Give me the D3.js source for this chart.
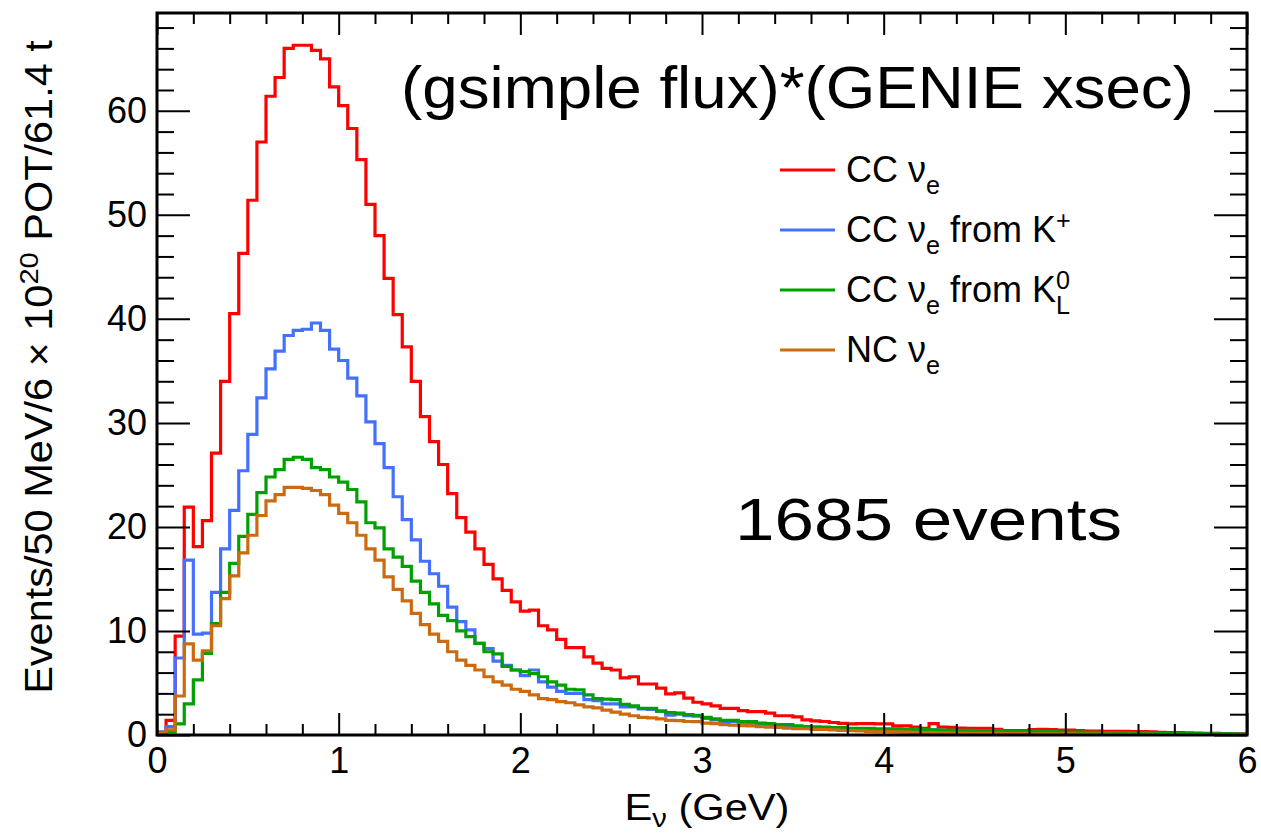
<!DOCTYPE html>
<html>
<head>
<meta charset="utf-8">
<script src="https://cdn.jsdelivr.net/npm/d3@7.9.0/dist/d3.min.js"></script>
<style>
  body { margin: 0; background: #fff; }
  svg { display: block; font-family: "Liberation Sans", Arial, sans-serif; }
</style>
</head>
<body>
<svg id="chart" width="1261" height="835"></svg>
<script>
// 50 MeV bins from 0 to 6 GeV
const binWidth = 0.05;

const ccNue = [
  0.2, 1.4, 9.5, 21.9, 18.1, 20.6, 27.1, 34.0, 40.5, 46.3,
  51.4, 57.0, 61.4, 63.2, 66.0, 66.3, 66.3, 65.8, 65.0, 62.3,
  60.5, 58.3, 55.3, 51.0, 48.0, 43.9, 40.4, 37.3, 34.0, 30.6,
  28.2, 26.0, 23.2, 20.9, 19.5, 17.9, 16.4, 15.0, 13.9, 12.8,
  11.9, 12.0, 10.5, 10.1, 9.2, 8.4, 8.4, 7.5, 6.9, 6.4,
  6.25, 5.5, 5.6, 4.9, 4.9, 4.5, 3.95, 4.05, 3.55, 3.15,
  3.0, 2.8, 2.55, 2.55, 2.35, 2.25, 2.25, 2.1, 1.85, 1.85,
  1.75, 1.45, 1.35, 1.3, 1.2, 1.12, 1.06, 1.1, 1.1, 1.06,
  1.06, 0.87, 0.87, 0.75, 0.65, 1.1, 0.75, 0.74, 0.66, 0.64,
  0.64, 0.64, 0.55, 0.42, 0.42, 0.42, 0.52, 0.55, 0.52, 0.48,
  0.48, 0.42, 0.38, 0.38, 0.36, 0.36, 0.35, 0.33, 0.33, 0.3,
  0.26, 0.24, 0.22, 0.2, 0.18, 0.16, 0.15, 0.14, 0.12, 0.1
];

const ccNueKplus = [
  0.3, 0.8, 7.4, 16.8, 9.7, 9.8, 13.7, 17.9, 21.6, 25.4,
  28.9, 32.4, 35.2, 36.9, 38.4, 38.9, 39.0, 39.6, 38.9, 37.1,
  36.0, 34.3, 32.6, 30.1, 28.0, 25.7, 22.9, 20.7, 18.75, 16.7,
  15.5, 14.3, 12.3, 10.9, 10.1, 8.8, 8.3, 7.1, 6.7, 6.25,
  5.7, 6.25, 5.1, 4.6, 4.2, 4.0, 4.0, 3.4, 3.3, 3.0,
  3.0, 2.7, 2.7, 2.5, 2.45, 2.3, 1.9, 2.0, 1.85, 1.8,
  1.6, 1.45, 1.3, 1.3, 1.2, 1.15, 1.05, 1.0, 0.95, 0.9,
  0.8, 0.75, 0.7, 0.65, 0.62, 0.6, 0.55, 0.55, 0.5, 0.5,
  0.48, 0.45, 0.42, 0.4, 0.38, 0.5, 0.38, 0.36, 0.35, 0.34,
  0.33, 0.32, 0.3, 0.3, 0.28, 0.28, 0.27, 0.26, 0.25, 0.24,
  0.23, 0.22, 0.21, 0.2, 0.19, 0.18, 0.17, 0.16, 0.15, 0.14,
  0.13, 0.12, 0.12, 0.11, 0.1, 0.1, 0.09, 0.08, 0.08, 0.07
];

const ccNueK0L = [
  0.0, 0.3, 1.06, 3.0, 5.3, 7.85, 10.7, 13.7, 16.5, 19.1,
  21.2, 23.3, 24.8, 25.5, 26.5, 26.7, 26.5, 25.7, 25.5, 24.8,
  24.3, 23.6, 22.4, 20.4, 19.9, 17.9, 17.1, 16.2, 14.8, 13.7,
  12.6, 11.5, 11.0, 10.0, 9.45, 8.8, 8.0, 7.8, 6.6, 6.25,
  6.1, 5.9, 5.6, 5.1, 4.8, 4.4, 4.35, 3.85, 3.5, 3.45,
  3.4, 2.95, 2.8, 2.55, 2.55, 2.3, 2.15, 2.1, 1.95, 1.9,
  1.7, 1.55, 1.4, 1.4, 1.3, 1.28, 1.15, 1.1, 1.0, 1.0,
  0.88, 0.8, 0.78, 0.75, 0.72, 0.7, 0.65, 0.63, 0.63, 0.6,
  0.6, 0.58, 0.55, 0.55, 0.52, 0.5, 0.48, 0.47, 0.45, 0.44,
  0.43, 0.42, 0.4, 0.38, 0.37, 0.36, 0.35, 0.33, 0.32, 0.3,
  0.28, 0.27, 0.26, 0.25, 0.24, 0.22, 0.21, 0.2, 0.19, 0.18,
  0.17, 0.16, 0.15, 0.14, 0.13, 0.12, 0.11, 0.1, 0.1, 0.09
];

const ncNue = [
  0.26, 0.5, 3.75, 8.75, 7.2, 8.1, 10.5, 13.1, 15.3, 17.5,
  19.2, 21.1, 22.5, 23.1, 23.8, 23.8, 23.7, 23.5, 23.1, 22.1,
  21.3, 20.4, 19.2, 17.9, 16.8, 15.2, 14.0, 12.9, 11.7, 10.6,
  9.7, 9.0, 8.0, 7.2, 6.7, 6.25, 5.6, 5.1, 4.8, 4.4,
  4.2, 3.85, 3.5, 3.4, 3.2, 3.1, 2.9, 2.7, 2.6, 2.4,
  2.2, 2.0, 1.85, 1.7, 1.65, 1.55, 1.4, 1.38, 1.3, 1.28,
  1.15, 1.1, 1.0, 0.95, 0.9, 0.88, 0.8, 0.75, 0.72, 0.65,
  0.62, 0.6, 0.55, 0.53, 0.5, 0.45, 0.42, 0.4, 0.35, 0.33,
  0.32, 0.3, 0.28, 0.25, 0.22, 0.2, 0.2, 0.19, 0.18, 0.17,
  0.16, 0.15, 0.15, 0.14, 0.13, 0.13, 0.12, 0.11, 0.11, 0.1,
  0.1, 0.09, 0.09, 0.08, 0.08, 0.07, 0.07, 0.06, 0.06, 0.06,
  0.05, 0.05, 0.05, 0.04, 0.04, 0.04, 0.03, 0.03, 0.03, 0.03
];

const xTicks = [0, 1, 2, 3, 4, 5, 6];
const yTicks = [0, 10, 20, 30, 40, 50, 60];

// legend labels as [text, kind] pieces
const legendLabels = [
  [['CC ν', ''], ['e', 'sub']],
  [['CC ν', ''], ['e', 'sub'], [' from K', ''], ['+', 'sup']],
  [['CC ν', ''], ['e', 'sub'], [' from K', ''], ['0', 'sup'], ['L', 'under']],
  [['NC ν', ''], ['e', 'sub']]
];
const seriesColors = ['#ff0000', '#4470ff', '#00a000', '#cc6a10'];
const allSeries = [ccNue, ccNueKplus, ccNueK0L, ncNue];

const svg = d3.select('#chart');
const plotLeft = 157, plotRight = 1247, plotTop = 13, plotBottom = 735;

let x = d3.scaleLinear().domain([0, 6]).range([plotLeft, plotRight]);
let y = d3.scaleLinear().domain([0, 69.4]).range([plotBottom, plotTop]);

// rich text with sub/superscripts
function richText(sel, parts, size, subShift = 0.33) {
  let shift = 0;
  let prev = null;
  parts.forEach(([txt, kind]) => {
    let target = 0;
    let fs = size;
    if (kind === 'sub' || kind === 'under') { target = subShift * size; fs = 0.7 * size; }
    if (kind === 'sup') { target = -0.36 * size; fs = 0.7 * size; }
    let t = sel.append('tspan')
      .attr('dy', target - shift)
      .attr('font-size', fs)
      .text(txt);
    if (kind === 'under' && prev) {
      t.attr('dx', -prev.node().getComputedTextLength());
    }
    shift = target;
    prev = t;
  });
}

// scale text horizontally to a target width
function fitScale(textSel, target) {
  let w = textSel.node().getComputedTextLength();
  return target / w;
}

// histograms
svg.append('clipPath').attr('id', 'plotclip')
  .append('rect')
  .attr('x', plotLeft).attr('y', plotTop)
  .attr('width', plotRight - plotLeft).attr('height', plotBottom - plotTop);

let line = d3.line()
  .x((d) => x(d[0]))
  .y((d) => y(d[1]))
  .curve(d3.curveStepAfter);

allSeries.forEach((vals, i) => {
  let pts = vals.map((v, k) => [k * binWidth, v]);
  pts.push([6, vals[vals.length - 1]]);
  svg.append('path')
    .attr('d', line(pts))
    .attr('fill', 'none')
    .attr('stroke', seriesColors[i])
    .attr('stroke-width', 3.2)
    .attr('clip-path', 'url(#plotclip)');
});

// axes
let minorX = d3.range(0, 6.001, 0.2).filter((d) => Math.abs(d - Math.round(d)) > 0.01);
let minorY = d3.range(0, 69, 2).filter((d) => d % 10 !== 0);

function styleAxis(g) {
  g.select('.domain').remove();
  g.selectAll('.tick line').attr('stroke', '#000').attr('stroke-width', 2);
  g.selectAll('.tick text').attr('fill', '#000').attr('font-size', 36)
    .attr('font-family', '"Liberation Sans", Arial, sans-serif');
}

svg.append('g').attr('transform', `translate(0,${plotBottom})`)
  .call(d3.axisBottom(x).tickValues(xTicks).tickSize(-22).tickPadding(12).tickFormat(d3.format('d')))
  .call(styleAxis);
svg.append('g').attr('transform', `translate(0,${plotBottom})`)
  .call(d3.axisBottom(x).tickValues(minorX).tickSize(-11).tickFormat(''))
  .call(styleAxis);
svg.append('g').attr('transform', `translate(0,${plotTop})`)
  .call(d3.axisTop(x).tickValues(xTicks).tickSize(-22).tickFormat(''))
  .call(styleAxis);
svg.append('g').attr('transform', `translate(0,${plotTop})`)
  .call(d3.axisTop(x).tickValues(minorX).tickSize(-11).tickFormat(''))
  .call(styleAxis);

svg.append('g').attr('transform', `translate(${plotLeft},0)`)
  .call(d3.axisLeft(y).tickValues(yTicks).tickSize(-33).tickPadding(10).tickFormat(d3.format('d')))
  .call(styleAxis);
svg.append('g').attr('transform', `translate(${plotLeft},0)`)
  .call(d3.axisLeft(y).tickValues(minorY).tickSize(-17).tickFormat(''))
  .call(styleAxis);
svg.append('g').attr('transform', `translate(${plotRight},0)`)
  .call(d3.axisRight(y).tickValues(yTicks).tickSize(-33).tickFormat(''))
  .call(styleAxis);
svg.append('g').attr('transform', `translate(${plotRight},0)`)
  .call(d3.axisRight(y).tickValues(minorY).tickSize(-17).tickFormat(''))
  .call(styleAxis);

// frame
svg.append('rect')
  .attr('x', plotLeft).attr('y', plotTop)
  .attr('width', plotRight - plotLeft).attr('height', plotBottom - plotTop)
  .attr('fill', 'none').attr('stroke', '#000').attr('stroke-width', 3);

// y axis title
let yTitle = svg.append('text').attr('text-anchor', 'middle').attr('font-size', 38);
richText(yTitle, [['Events/50 MeV/6 × 10', ''], ['20', 'sup'], [' POT/61.4 t', '']], 38);
let sy = fitScale(yTitle, 654);
yTitle.attr('transform', `translate(52,367) rotate(-90) scale(${sy},1)`);

// x axis title
let xTitle = svg.append('text').attr('text-anchor', 'middle').attr('font-size', 37);
richText(xTitle, [['E', ''], ['ν', 'sub'], [' (GeV)', '']], 37, 0.2);
let sx = fitScale(xTitle, 165);
xTitle.attr('transform', `translate(707,820) scale(${sx},1)`);

// header text
let title = svg.append('text').attr('font-size', 60).text('(gsimple flux)*(GENIE xsec)');
title.attr('transform', `translate(401,108) scale(${fitScale(title, 793)},1)`);

let count = svg.append('text').attr('font-size', 60).text('1685 events');
count.attr('transform', `translate(735,540) scale(${fitScale(count, 387)},1)`);

// legend
let legend = svg.append('g');
legendLabels.forEach((parts, i) => {
  let ly = 170 + i * 60;
  legend.append('line')
    .attr('x1', 780).attr('x2', 835)
    .attr('y1', ly).attr('y2', ly)
    .attr('stroke', seriesColors[i])
    .attr('stroke-width', 3.2);
  let t = legend.append('text')
    .attr('x', 846).attr('y', ly + 12)
    .attr('font-size', 36);
  richText(t, parts, 36);
});
</script>
</body>
</html>
